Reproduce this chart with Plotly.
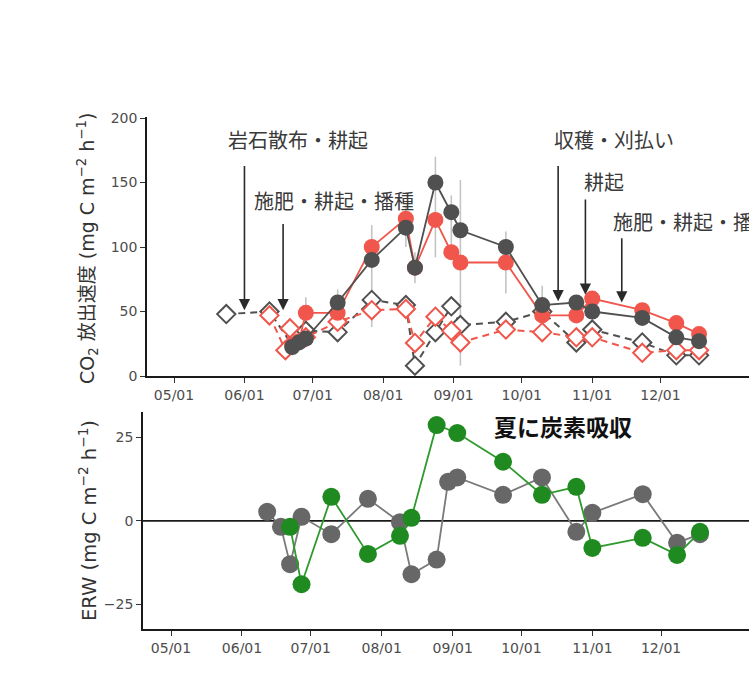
import plotly.graph_objects as go
import pandas as pd

YEAR = 2023

def dt(md):
    return f"{YEAR}-{md}"

# ---------------- data: upper panel (CO2 efflux) ----------------
circle_dates = ["06-22", "06-25", "06-28", "07-12", "07-27", "08-11", "08-15", "08-24",
                "08-31", "09-04", "09-24", "10-10", "10-25", "11-01", "11-23", "12-08", "12-18"]
co2_red_filled = [24, 27, 49, 49, 100, 122, 84, 121, 96, 88, 88, 47, 47, 60, 51, 41, 32.5]
co2_gray_filled = [22.5, 26, 29, 57, 90, 115, 84, 150, 127, 113, 100, 55, 57, 50, 45, 30, 27]

gray_open_dates = ["05-24", "06-12", "06-22", "06-25", "06-28", "07-12", "07-27", "08-11", "08-15",
                   "08-24", "08-31", "09-04", "09-24", "10-10", "10-25", "11-01", "11-23", "12-08", "12-18"]
co2_gray_open = [48, 50, 24, 30, 35, 34, 59, 55, 8, 34, 54, 39.5, 42, 50, 26, 36, 26, 16, 16]

red_open_dates = ["06-12", "06-19", "06-21", "06-28", "07-12", "07-27", "08-11", "08-15", "08-24",
                  "08-31", "09-04", "09-24", "10-10", "10-25", "11-01", "11-23", "12-08", "12-18"]
co2_red_open = [47, 20, 37, 30, 42, 51, 52, 25.6, 46, 35, 26, 36, 34, 30, 30, 18, 20, 20]

err_dates = ["06-28", "07-12", "07-27", "08-11", "08-15", "08-24", "08-31", "09-04", "09-24", "10-10"]
err_low = [37, 45, 38, 100, 72, 92, 90, 8, 64, 40]
err_high = [61, 67, 117, 132, 96, 170, 140, 152, 112, 70]

# events (arrows)
event_dates = ["06-01", "06-18", "10-17", "10-29", "11-14"]
event_labels = ["岩石散布・耕起", "施肥・耕起・播種", "収穫・刈払い", "耕起", "施肥・耕起・播種"]

# ---------------- data: lower panel (ERW) ----------------
erw_gray_dates = ["06-12", "06-18", "06-22", "06-27", "07-10", "07-26", "08-09", "08-14", "08-25",
                  "08-30", "09-03", "09-23", "10-10", "10-25", "11-01", "11-23", "12-08", "12-18"]
erw_gray = [2.7, -1.8, -13, 1.2, -4, 6.6, -0.4, -16, -11.6, 11.7, 13, 7.8, 13, -3.3, 2.4, 8, -6.6, -4]
erw_green_dates = ["06-22", "06-27", "07-10", "07-26", "08-09", "08-14", "08-25", "09-03", "09-23",
                   "10-10", "10-25", "11-01", "11-23", "12-08", "12-18"]
erw_green = [-1.8, -19, 7.2, -9.9, -4.5, 0.9, 28.7, 26.3, 17.7, 7.8, 10.2, -8.1, -5.1, -10.2, -3.3]

tick_dates = ["05-01", "06-01", "07-01", "08-01", "09-01", "10-01", "11-01", "12-01"]
tick_labels = ["05/01", "06/01", "07/01", "08/01", "09/01", "10/01", "11/01", "12/01"]

# ---------------- styling ----------------
W, H = 749, 688
FONT = "DejaVu Sans, Noto Sans CJK JP, sans-serif"
CJK = "Noto Sans CJK JP, sans-serif"
RED = "#F0564B"
DARK = "#505050"
GRAY2 = "#676767"
GREEN = "#1F8A1F"
ERR = "#C4C4C4"

fig = go.Figure()

# error bars (drawn first, behind everything)
fig.add_trace(go.Scatter(
    x=[dt(d) for d in err_dates], y=err_low, mode="markers",
    marker=dict(size=1, opacity=0),
    error_y=dict(type="data", symmetric=False,
                 array=[h - l for h, l in zip(err_high, err_low)],
                 arrayminus=[0] * len(err_low), color=ERR, thickness=1.6, width=0),
    xaxis="x", yaxis="y", showlegend=False, hoverinfo="skip"))

fig.add_trace(go.Scatter(
    x=[dt(d) for d in gray_open_dates], y=co2_gray_open, mode="lines+markers",
    line=dict(color=DARK, width=2, dash="7px,5px"),
    marker=dict(symbol="diamond", size=14, color="white", line=dict(color=DARK, width=2)),
    xaxis="x", yaxis="y", showlegend=False))

fig.add_trace(go.Scatter(
    x=[dt(d) for d in red_open_dates], y=co2_red_open, mode="lines+markers",
    line=dict(color=RED, width=2, dash="7px,5px"),
    marker=dict(symbol="diamond", size=14, color="white", line=dict(color=RED, width=2)),
    xaxis="x", yaxis="y", showlegend=False))

fig.add_trace(go.Scatter(
    x=[dt(d) for d in circle_dates], y=co2_red_filled, mode="lines+markers",
    line=dict(color=RED, width=1.8),
    marker=dict(symbol="circle", size=16, color=RED),
    xaxis="x", yaxis="y", showlegend=False))

fig.add_trace(go.Scatter(
    x=[dt(d) for d in circle_dates], y=co2_gray_filled, mode="lines+markers",
    line=dict(color=DARK, width=1.8),
    marker=dict(symbol="circle", size=16, color=DARK),
    xaxis="x", yaxis="y", showlegend=False))

# lower panel
fig.add_trace(go.Scatter(
    x=[dt(d) for d in erw_gray_dates], y=erw_gray, mode="lines+markers",
    line=dict(color="#7a7a7a", width=1.8),
    marker=dict(symbol="circle", size=18, color=GRAY2),
    xaxis="x2", yaxis="y2", showlegend=False))

fig.add_trace(go.Scatter(
    x=[dt(d) for d in erw_green_dates], y=erw_green, mode="lines+markers",
    line=dict(color="#2E9A2E", width=1.8),
    marker=dict(symbol="circle", size=18, color=GREEN),
    xaxis="x2", yaxis="y2", showlegend=False))

may1 = pd.Timestamp(f"{YEAR}-05-01")
def px_range(px_may1, px_per_day, left_px):
    start = may1 - pd.Timedelta(days=(px_may1 - left_px) / px_per_day)
    end = may1 + pd.Timedelta(days=(W - px_may1) / px_per_day)
    return [start, end]

axis_common = dict(
    showgrid=False, zeroline=False, showline=True, linecolor="#1a1a1a", linewidth=1.6,
    ticks="outside", ticklen=5, tickwidth=1.2, tickcolor="#333333", automargin=False,
    tickfont=dict(family=FONT, size=14, color="#4d4d4d"),
)

fig.update_layout(
    width=W, height=H,
    margin=dict(l=0, r=0, t=0, b=0, pad=0, autoexpand=False),
    paper_bgcolor="white", plot_bgcolor="white",
    xaxis=dict(domain=[147 / W, 1], anchor="y", type="date",
               range=px_range(174, 2.273, 147),
               tickvals=[dt(d) for d in tick_dates], ticktext=tick_labels, **axis_common),
    yaxis=dict(domain=[1 - 376 / H, 1 - 117 / H], anchor="x", range=[0, 200.8],
               tickvals=[0, 50, 100, 150, 200], **axis_common),
    xaxis2=dict(domain=[143 / W, 1], anchor="y2", type="date",
                range=px_range(171, 2.29, 143),
                tickvals=[dt(d) for d in tick_dates], ticktext=tick_labels, **axis_common),
    yaxis2=dict(domain=[1 - 629 / H, 1 - 412 / H], anchor="x2", range=[-32.4, 32.6],
                tickvals=[-25, 0, 25], **axis_common),
)

# zero line in lower panel
fig.add_shape(type="line", xref="x2 domain", yref="y2", x0=0, x1=1, y0=0, y1=0,
              line=dict(color="#1a1a1a", width=1.6), layer="below")

# y-axis titles
fig.add_annotation(
    text="CO<sub>2</sub> 放出速度 (mg C m<sup>−2</sup> h<sup>−1</sup>)",
    xref="paper", yref="paper", x=88 / W, y=1 - 249 / H, textangle=-90,
    showarrow=False, xanchor="center", yanchor="middle",
    font=dict(family=FONT, size=19, color="#333333"))
fig.add_annotation(
    text="ERW (mg C m<sup>−2</sup> h<sup>−1</sup>)",
    xref="paper", yref="paper", x=88 / W, y=1 - 521 / H, textangle=-90,
    showarrow=False, xanchor="center", yanchor="middle",
    font=dict(family=FONT, size=19.5, color="#333333"))

# event arrows and labels
arrow_tip = [51, 51, 58, 63, 57]
arrow_tail = [164, 119, 164, 138, 108]
label_y = [183, 136, 183, 150.5, 119.5]
label_shift = [-18, -31, -6, -3, -11]
for d, lab, tip, tail, ly, sh in zip(event_dates, event_labels, arrow_tip, arrow_tail, label_y, label_shift):
    fig.add_annotation(x=dt(d), y=tip, ax=dt(d), ay=tail, xref="x", yref="y", axref="x", ayref="y",
                       text="", showarrow=True, arrowhead=2, arrowsize=1.4, arrowwidth=1.6,
                       arrowcolor="#2a2a2a", standoff=0)
    fig.add_annotation(x=dt(d), y=ly, xref="x", yref="y", text=lab, showarrow=False,
                       xanchor="left", yanchor="middle", xshift=sh,
                       font=dict(family=CJK, size=20, color="#3a3a3a"))

fig.add_annotation(text="<b>夏に炭素吸収</b>", xref="paper", yref="paper",
                   x=563 / W, y=1 - 426 / H, showarrow=False, xanchor="center", yanchor="middle",
                   font=dict(family=CJK, size=23, color="#111111"))

fig.write_html(
    "out.html",
    config={"displayModeBar": False},
    post_script="document.documentElement.style.margin='0';document.body.style.margin='0';"
                "document.body.style.padding='0';document.body.style.overflow='hidden';"
                "document.documentElement.style.overflow='hidden';",
)
